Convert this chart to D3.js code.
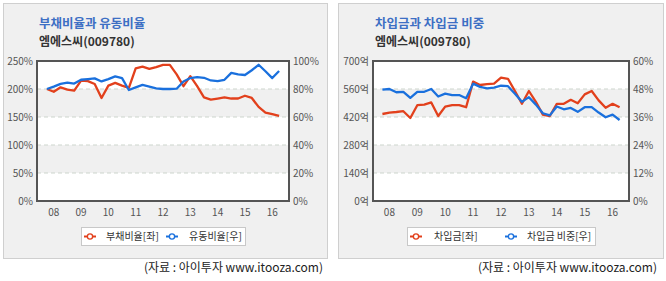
<!DOCTYPE html>
<html>
<head>
<meta charset="UTF-8">
<title>부채비율 / 차입금</title>
<script src="https://cdn.jsdelivr.net/npm/d3@7"></script>
<style>
  body { margin: 0; background: #fff; }
  text { font-family: "Noto Sans CJK KR", "Noto Sans", sans-serif; }
</style>
</head>
<body>
<div id="chart"></div>
<script>
// 분기 (07.4 ~ 16.2)
var periods = ["07.4",
  "08.1", "08.2", "08.3", "08.4", "09.1", "09.2", "09.3", "09.4",
  "10.1", "10.2", "10.3", "10.4", "11.1", "11.2", "11.3", "11.4",
  "12.1", "12.2", "12.3", "12.4", "13.1", "13.2", "13.3", "13.4",
  "14.1", "14.2", "14.3", "14.4", "15.1", "15.2", "15.3", "15.4",
  "16.1", "16.2"];
var tickPeriods = ["08.1", "09.1", "10.1", "11.1", "12.1", "13.1", "14.1", "15.1", "16.1"];
var tickLabels = ["08", "09", "10", "11", "12", "13", "14", "15", "16"];

// 부채비율 (%) - 좌축
var debtRatio = [200, 195, 203, 199, 197, 215, 214, 209, 184, 206, 211, 206, 202,
  237, 240, 236, 239, 243, 243, 226, 205, 223, 205, 185, 181, 183, 185, 183,
  183, 188, 184, 168, 158, 155, 152];
// 유동비율 (%) - 우축
var currentRatio = [80, 81.7, 83.7, 84.6, 83.9, 86.6, 87.1, 87.6, 85.4, 87.1, 89, 87.8,
  79.3, 81.2, 82.9, 81.7, 80.5, 80, 80, 80.2, 85.4, 87.8, 88.5, 88, 86.1, 85.6,
  86.6, 91.5, 90.5, 90, 93.4, 97.3, 92.7, 87.8, 92.9];

// 차입금 (억) - 좌축
var borrowings = [435, 442, 445, 449, 415, 479, 482, 493, 425, 472, 479, 479, 469,
  597, 580, 584, 587, 617, 611, 550, 486, 550, 496, 432, 425, 486, 486, 506,
  489, 533, 550, 503, 466, 486, 469];
// 차입금 비중 (%) - 우축
var borrowShare = [47.7, 48, 46.6, 46.8, 44.2, 46.8, 46.8, 48, 44.8, 46, 45.4, 45.4,
  44, 50.3, 48.9, 48.3, 48.6, 49.4, 49.2, 46, 42.5, 44.5, 41.3, 37.6, 36.7, 40.5,
  39.3, 39.9, 38.2, 40.2, 40.2, 37.9, 35.9, 37, 34.7];

var leftTicks1 = [0, 50, 100, 150, 200, 250];
var rightTicks1 = [0, 20, 40, 60, 80, 100];
var leftTicks2 = [0, 140, 280, 420, 560, 700];
var rightTicks2 = [0, 12, 24, 36, 48, 60];

var RED = "#e2401c", BLUE = "#1a70dd";

var svg = d3.select("#chart").append("svg")
    .attr("width", 666)
    .attr("height", 281);

function drawPanel(cfg) {
    var g = svg.append("g");

    // 외곽 박스
    g.append("rect")
        .attr("x", cfg.box[0] + 0.5).attr("y", cfg.box[1] + 0.5)
        .attr("width", cfg.box[2]).attr("height", cfg.box[3])
        .attr("fill", "#f0f0f0").attr("stroke", "#cfcfcf");

    // 제목
    g.append("text").text(cfg.title)
        .attr("x", cfg.x0 + 2).attr("y", 28)
        .attr("fill", "#3d6fc4").attr("font-size", "12.5px").attr("font-weight", "bold");
    g.append("text").text("엠에스씨(009780)")
        .attr("x", cfg.x0 + 2).attr("y", 46)
        .attr("fill", "#333").attr("font-size", "12px").attr("font-weight", "bold");

    var x = d3.scalePoint().domain(periods).range([cfg.x0, cfg.x1]).padding(cfg.pad);
    var yL = d3.scaleLinear().domain([0, d3.max(cfg.leftTicks)]).range([201, 61]);
    var yR = d3.scaleLinear().domain([0, d3.max(cfg.rightTicks)]).range([201, 61]);

    // 배경 띠 (흰색 / 회색 교대)
    g.selectAll(".band")
        .data(d3.pairs(cfg.leftTicks))
        .enter().append("rect")
        .attr("x", cfg.x0).attr("width", cfg.x1 - cfg.x0)
        .attr("y", function (d) { return yL(d[1]); })
        .attr("height", function (d) { return yL(d[0]) - yL(d[1]); })
        .attr("fill", function (d, i) { return i % 2 == 1 ? "#f0f0f0" : "#fff"; });

    // 점선 그리드
    g.selectAll(".grid")
        .data(cfg.leftTicks.slice(1, -1))
        .enter().append("line")
        .attr("x1", cfg.x0).attr("x2", cfg.x1)
        .attr("y1", function (d) { return yL(d); })
        .attr("y2", function (d) { return yL(d); })
        .attr("stroke", "#cdd5cd").attr("stroke-dasharray", "4,3");

    // 좌축 / 우축 라벨
    g.selectAll(".ly")
        .data(cfg.leftTicks)
        .enter().append("text")
        .text(function (d) { return d + cfg.leftUnit; })
        .attr("x", cfg.x0 - 4).attr("y", function (d) { return yL(d) + 3.5; })
        .attr("text-anchor", "end")
        .attr("fill", "#555").attr("font-size", "10px");
    g.selectAll(".ry")
        .data(cfg.rightTicks)
        .enter().append("text")
        .text(function (d) { return d + "%"; })
        .attr("x", cfg.x1 + 4).attr("y", function (d) { return yR(d) + 3.5; })
        .attr("fill", "#555").attr("font-size", "10px");

    // x축 라벨
    g.selectAll(".xt")
        .data(tickPeriods)
        .enter().append("text")
        .text(function (d, i) { return tickLabels[i]; })
        .attr("x", function (d) { return x(d); })
        .attr("y", 216)
        .attr("text-anchor", "middle")
        .attr("fill", "#555").attr("font-size", "10px");

    // 선
    var lineL = d3.line().x(function (d, i) { return x(periods[i]); }).y(function (d) { return yL(d); });
    var lineR = d3.line().x(function (d, i) { return x(periods[i]); }).y(function (d) { return yR(d); });
    g.append("path").datum(cfg.leftData).attr("d", lineL)
        .attr("fill", "none").attr("stroke", RED).attr("stroke-width", 2.3)
        .attr("stroke-linejoin", "round");
    g.append("path").datum(cfg.rightData).attr("d", lineR)
        .attr("fill", "none").attr("stroke", BLUE).attr("stroke-width", 2.3)
        .attr("stroke-linejoin", "round");

    // 플롯 테두리
    g.append("rect")
        .attr("x", cfg.x0).attr("y", 61)
        .attr("width", cfg.x1 - cfg.x0).attr("height", 140)
        .attr("fill", "none").attr("stroke", "#555").attr("stroke-width", 2);

    // 범례
    g.append("rect")
        .attr("x", cfg.legend[0] + 0.5).attr("y", 227.5)
        .attr("width", cfg.legend[1] - cfg.legend[0]).attr("height", 18)
        .attr("fill", "#fff").attr("stroke", "#c8c8c8");
    var items = [
        { name: cfg.names[0], color: RED, mx: cfg.legend[2], tx: cfg.legend[3] },
        { name: cfg.names[1], color: BLUE, mx: cfg.legend[4], tx: cfg.legend[5] }
    ];
    items.forEach(function (it) {
        g.append("line")
            .attr("x1", it.mx - 6).attr("x2", it.mx + 6)
            .attr("y1", 236.5).attr("y2", 236.5)
            .attr("stroke", it.color).attr("stroke-width", 2);
        g.append("circle")
            .attr("cx", it.mx).attr("cy", 236.5).attr("r", 2.6)
            .attr("fill", "#fff").attr("stroke", it.color).attr("stroke-width", 1.3);
        g.append("text").text(it.name)
            .attr("x", it.tx).attr("y", 240)
            .attr("fill", "#333").attr("font-size", "10px");
    });

    // 출처
    g.append("text").text("(자료 : 아이투자 www.itooza.com)")
        .attr("x", cfg.srcX).attr("y", 272)
        .attr("text-anchor", "end")
        .attr("fill", "#222").attr("font-size", "12px");
}

drawPanel({
    box: [3, 3, 324, 255], x0: 37, x1: 289, pad: 1.45,
    title: "부채비율과 유동비율",
    leftTicks: leftTicks1, rightTicks: rightTicks1, leftUnit: "%",
    leftData: debtRatio, rightData: currentRatio,
    names: ["부채비율[좌]", "유동비율[우]"],
    legend: [81, 245, 90, 106, 172, 189],
    srcX: 323
});
drawPanel({
    box: [338, 3, 325, 255], x0: 373, x1: 629, pad: 1.35,
    title: "차입금과 차입금 비중",
    leftTicks: leftTicks2, rightTicks: rightTicks2, leftUnit: "억",
    leftData: borrowings, rightData: borrowShare,
    names: ["차입금[좌]", "차입금 비중[우]"],
    legend: [407, 595, 416, 434, 511, 527],
    srcX: 657
});
</script>
</body>
</html>
